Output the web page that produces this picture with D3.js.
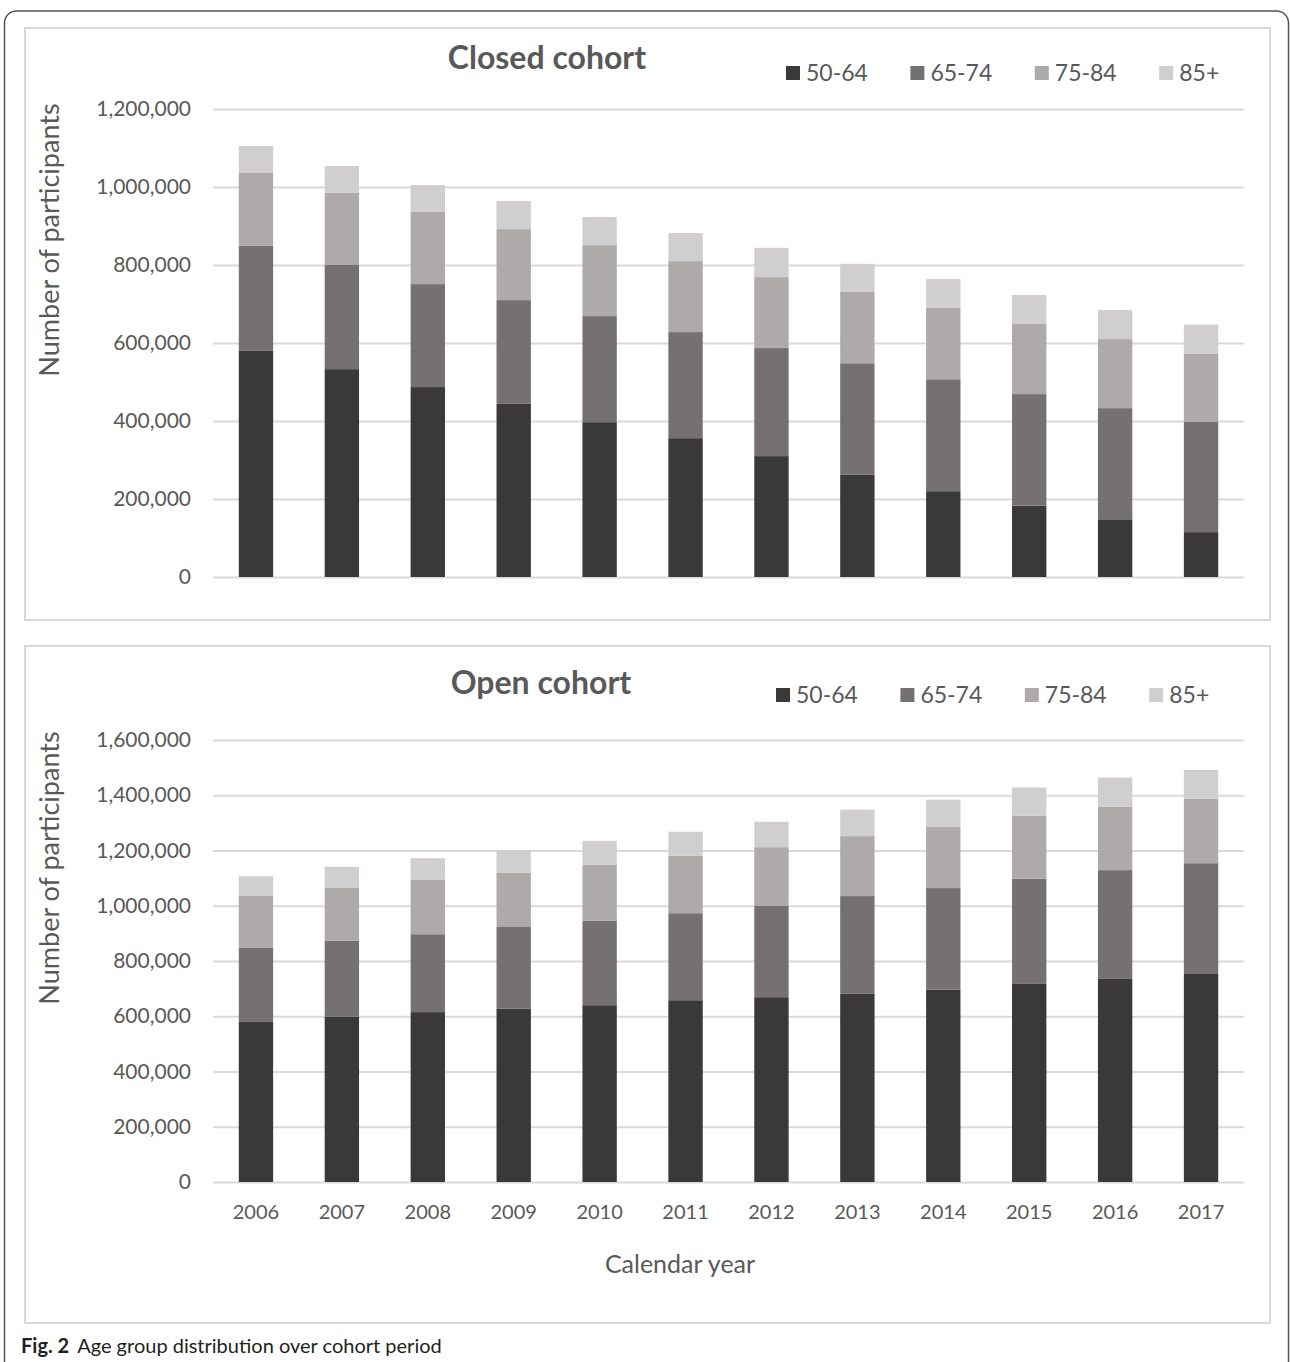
<!DOCTYPE html>
<html>
<head>
<meta charset="utf-8">
<script src="https://cdn.jsdelivr.net/npm/d3@7/dist/d3.min.js"></script>
<style>
	body { margin: 0; background: #fff; }
	text { font-family: Lato, "Open Sans", sans-serif; }
</style>
</head>
<body>
<div id="fig"></div>
<script>
var years = ["2006", "2007", "2008", "2009", "2010", "2011", "2012", "2013", "2014", "2015", "2016", "2017"];
var ageGroups = ["50-64", "65-74", "75-84", "85+"];

// closed cohort, participants per age group
var closed_50_64 = [580000, 533000, 487000, 444000, 397000, 356000, 310000, 262000, 220000, 183000, 148000, 115000];
var closed_65_74 = [269000, 267000, 264000, 266000, 272000, 272000, 277000, 286000, 287000, 286000, 285000, 283000];
var closed_75_84 = [187000, 185000, 185000, 182000, 182000, 182000, 182000, 183000, 183000, 180000, 177000, 174000];
var closed_85 = [69000, 69000, 69000, 72000, 72000, 72000, 75000, 72000, 74000, 74000, 75000, 75000];

// open cohort
var open_50_64 = [579000, 598000, 615000, 628000, 640000, 658000, 669000, 681000, 696000, 717000, 737000, 753000];
var open_65_74 = [270000, 276000, 282000, 295000, 306000, 315000, 332000, 354000, 368000, 381000, 392000, 401000];
var open_75_84 = [188000, 192000, 198000, 197000, 202000, 208000, 211000, 217000, 221000, 228000, 230000, 233000];
var open_85 = [70000, 75000, 77000, 82000, 87000, 87000, 92000, 96000, 99000, 102000, 105000, 105000];

var closedTicks = [0, 200000, 400000, 600000, 800000, 1000000, 1200000];
var openTicks = [0, 200000, 400000, 600000, 800000, 1000000, 1200000, 1400000, 1600000];

var colors = ["#3b3838", "#767171", "#aeaaaa", "#d0cece"];
var textColor = "#595959";

var W = 1290, H = 1362;
var svg = d3.select("#fig").append("svg")
	.attr("width", W)
	.attr("height", H);

// outer frame of the figure
svg.append("rect")
	.attr("x", 4.5).attr("y", 11)
	.attr("width", 1284).attr("height", 1400)
	.attr("rx", 12)
	.attr("fill", "none")
	.attr("stroke", "#555")
	.attr("stroke-width", 1.5);

var buildRows = function(a, b, c, d) {
	return years.map(function(y, i) {
		return { year: y, "50-64": a[i], "65-74": b[i], "75-84": c[i], "85+": d[i] };
	});
};

var drawPanel = function(opt) {
	var g = svg.append("g");

	g.append("rect")
		.attr("x", opt.box[0]).attr("y", opt.box[1])
		.attr("width", opt.box[2]).attr("height", opt.box[3])
		.attr("fill", "#fff")
		.attr("stroke", "#d9d9d9")
		.attr("stroke-width", 2);

	var x = d3.scaleBand()
		.domain(years)
		.range([opt.left, opt.right])
		.paddingInner(0.6)
		.paddingOuter(0.3);

	var y = d3.scaleLinear()
		.domain([0, opt.ticks[opt.ticks.length - 1]])
		.range([opt.bottom, opt.top]);

	var yAxis = g.append("g")
		.attr("transform", "translate(" + opt.left + ",0)")
		.call(d3.axisLeft(y)
			.tickValues(opt.ticks)
			.tickSize(-(opt.right - opt.left))
			.tickPadding(22)
			.tickFormat(d3.format(",")));
	yAxis.select(".domain").remove();
	yAxis.selectAll(".tick line")
		.attr("stroke", "#d9d9d9")
		.attr("stroke-width", 2);
	yAxis.selectAll(".tick text")
		.attr("fill", textColor)
		.style("font-size", "21px");

	var stack = d3.stack().keys(ageGroups);
	var series = stack(opt.rows);

	g.selectAll("g.layer")
		.data(series)
		.enter()
		.append("g")
		.attr("class", "layer")
		.attr("fill", function(d, i) { return colors[i]; })
		.selectAll("rect")
		.data(function(d) { return d; })
		.enter()
		.append("rect")
		.attr("x", function(d) { return x(d.data.year); })
		.attr("width", x.bandwidth())
		.attr("y", function(d) { return y(d[1]); })
		.attr("height", function(d) { return y(d[0]) - y(d[1]); });

	g.append("text")
		.attr("x", opt.titleX)
		.attr("y", opt.titleY)
		.attr("text-anchor", "middle")
		.attr("fill", textColor)
		.style("font-size", "32px")
		.style("font-weight", "bold")
		.text(opt.title);

	g.append("text")
		.attr("transform", "translate(" + 59 + "," + opt.yTitleY + ") rotate(-90)")
		.attr("text-anchor", "middle")
		.attr("fill", textColor)
		.style("font-size", "27px")
		.text("Number of participants");

	var legend = g.selectAll("g.legend")
		.data(ageGroups)
		.enter()
		.append("g")
		.attr("class", "legend")
		.attr("transform", function(d, i) {
			return "translate(" + (opt.legendX + i * 124.4) + "," + opt.legendY + ")";
		});
	legend.append("rect")
		.attr("x", 0).attr("y", -7)
		.attr("width", 14).attr("height", 14)
		.attr("fill", function(d, i) { return colors[i]; });
	legend.append("text")
		.attr("x", 20)
		.attr("y", 8)
		.attr("fill", textColor)
		.style("font-size", "23px")
		.text(function(d) { return d; });

	if (opt.xLabels) {
		g.append("g")
			.attr("transform", "translate(0," + opt.bottom + ")")
			.call(d3.axisBottom(x).tickSize(0).tickPadding(23))
			.call(function(a) { a.select(".domain").remove(); })
			.selectAll("text")
			.attr("fill", textColor)
			.style("font-size", "20px");

		g.append("text")
			.attr("x", 680)
			.attr("y", 1273)
			.attr("text-anchor", "middle")
			.attr("fill", textColor)
			.style("font-size", "25px")
			.text("Calendar year");
	}
};

drawPanel({
	box: [25, 28, 1245, 592],
	left: 213, right: 1244, top: 109, bottom: 577,
	ticks: closedTicks,
	rows: buildRows(closed_50_64, closed_65_74, closed_75_84, closed_85),
	title: "Closed cohort", titleX: 547, titleY: 69,
	yTitleY: 240,
	legendX: 786, legendY: 73,
	xLabels: false
});

drawPanel({
	box: [25, 646, 1245, 677],
	left: 213, right: 1244, top: 740, bottom: 1182,
	ticks: openTicks,
	rows: buildRows(open_50_64, open_65_74, open_75_84, open_85),
	title: "Open cohort", titleX: 541, titleY: 694,
	yTitleY: 868,
	legendX: 776, legendY: 695,
	xLabels: true
});

// caption
var cap = svg.append("text")
	.attr("x", 21)
	.attr("y", 1353)
	.attr("fill", "#231f20")
	.style("font-size", "20px");
cap.append("tspan").style("font-weight", "bold").text("Fig. 2");
cap.append("tspan").attr("dx", 8).text("Age group distribution over cohort period");
</script>
</body>
</html>
